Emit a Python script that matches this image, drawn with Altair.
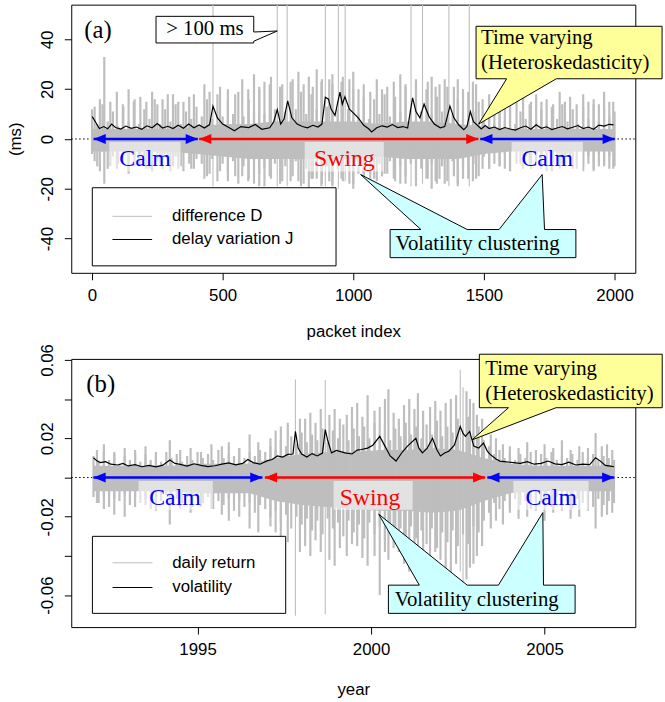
import altair as alt
import pandas as pd

GRAY = "#bebebe"
SANS = "Liberation Sans"
SERIF = "Liberation Serif"
BLUE = "#0000ff"
RED = "#ff0000"
YELLOW = "#ffff99"
CYAN = "#ccffff"

# ======================= Panel (a): packet delay =======================
# dense core of the difference series D (ms)
A_CORE_X = [0, 100, 200, 300, 400, 500, 600, 700, 800, 900, 1000, 1100, 1200, 1300, 1400, 1500,
            1600, 1700, 1800, 1900, 2000]
A_CORE_HI = [4, 4, 4, 4, 5, 6, 6, 7, 7, 7, 7, 6, 7, 7, 6, 5, 4, 4, 4, 4, 4]
A_CORE_LO = [-5, -5, -5, -5, -6, -7, -8, -8, -8, -8, -8, -7, -8, -8, -8, -6, -5, -5, -5, -5, -5]
# excursions of D sampled every 20 packets (high / low)
A_GRID = list(range(0, 2001, 20))
A_HI = [12, 6, 14, 7, 11, 5, 13, 7, 15, 6, 12, 8, 16, 6, 12, 7, 14, 6, 11, 8, 13,
        9, 16, 8, 18, 9, 15, 10, 19, 9, 16, 11, 20, 10, 22, 12, 21, 11, 23, 12, 19,
        10, 18, 12, 24, 13, 22, 12, 25, 12, 20, 10, 17, 8, 16, 10, 18, 9, 17, 11, 21,
        12, 23, 11, 20, 10, 17, 11, 21, 10, 16, 9, 19, 11, 15,
        8, 13, 6, 12, 7, 14, 6, 11, 8, 15, 7, 12, 6, 13, 8, 14, 7, 12, 6, 13, 8, 14, 7, 12, 9, 11]
A_LO = [-6, -11, -5, -12, -7, -10, -5, -13, -6, -11, -7, -12, -5, -10, -6, -13, -7, -11, -5, -12, -8,
        -10, -15, -8, -17, -10, -14, -9, -18, -11, -16, -9, -19, -12, -15, -10, -18, -11, -17, -9, -19,
        -12, -16, -10, -18, -11, -19, -12, -17, -10, -18, -9, -15, -8, -16, -10, -14, -9, -17, -11, -18,
        -10, -19, -12, -16, -10, -18, -11, -17, -9, -19, -11, -16, -10, -15,
        -7, -12, -5, -11, -6, -13, -5, -10, -7, -12, -6, -11, -5, -13, -7, -10, -6, -12, -5, -11, -7, -13, -6, -10, -7, -11]
# individual spikes (120 = beyond 100 ms, clipped at the frame)
A_SPK_X = [10, 30, 47, 70, 95, 118, 140, 163, 185, 208, 230, 250, 270, 290, 310, 330, 350, 372, 390,
           430, 450, 463, 490, 520, 548, 575, 598, 620, 640, 660, 685, 709, 728, 747, 768, 790, 810, 830, 845,
           860, 878, 893, 908, 920, 943, 955, 969, 985, 1000, 1020, 1040, 1065, 1090, 1110, 1130, 1155, 1180, 1200, 1221,
           1240, 1265, 1285, 1300, 1315, 1330, 1350, 1366, 1385, 1400, 1420, 1444, 1458, 1470,
           1495, 1520, 1540, 1560, 1580, 1600, 1625, 1650, 1675, 1700, 1720, 1740, 1765, 1790, 1810, 1830, 1855, 1880,
           1900, 1920, 1940, 1960, 1980, 1995]
A_SPK_HI = [13, 16, 33, 15, 19, 14, 20, 16, 17, 15, 19, 14, 16, 18, 18, 15, 15, 17, 18,
            22, 19, 120, 21, 20, 18, 24, 20, 26, 21, 23, 25, 120, 22, 120, 24, 27, 22, 25, 21,
            28, 23, 120, 24, 26, 120, 23, 120, 24, 27, 20, 22, 19, 24, 20, 21, 23, 26, 22, 120,
            24, 120, 23, 25, 21, 22, 24, 120, 21, 24, 20, 120, 23, 22,
            16, 18, 15, 16, 14, 19, 15, 17, 14, 18, 15, 16, 14, 19, 15, 17, 14, 18, 15, 16, 14, 19, 15, 15]
A_SPK_LO = [-9, -13, -18, -11, -12, -10, -14, -11, -10, -12, -13, -9, -12, -10, -11, -12, -13, -10, -12,
            -16, -14, -19, -13, -17, -15, -15, -17, -18, -14, -19, -16, -19, -17, -19, -15, -17, -18, -20, -16,
            -16, -19, -19, -17, -18, -20, -16, -17, -18, -20, -14, -15, -16, -17, -15, -14, -16, -18, -15, -19,
            -17, -18, -16, -20, -17, -16, -18, -19, -15, -18, -16, -19, -17, -16,
            -12, -12, -10, -11, -12, -13, -10, -12, -11, -10, -12, -13, -10, -12, -11, -11, -12, -13, -10, -12,
            -11, -11, -12, -12]
# delay variation J (ms)
A_J_X = [1, 15, 28, 45, 60, 75, 90, 110, 130, 150, 170, 190, 210, 230, 250, 270, 290, 310, 330, 350,
         370, 390, 410, 430, 450, 463, 480, 500, 527, 545, 570, 600, 625, 650, 680, 695, 709, 722, 735, 749,
         765, 785, 805, 825, 845, 865, 880, 893, 905, 915, 930, 949, 958, 968, 985, 1000, 1019, 1040, 1060, 1070,
         1090, 1110, 1130, 1150, 1170, 1190, 1208, 1227, 1240, 1255, 1271, 1290, 1310, 1333, 1350, 1370, 1385,
         1405, 1423, 1435, 1448, 1460, 1475, 1490, 1505, 1520, 1540, 1560, 1580, 1600, 1620, 1640, 1660, 1680,
         1700, 1720, 1740, 1760, 1780, 1800, 1820, 1840, 1860, 1880, 1900, 1920, 1940, 1960, 1980, 1996]
A_J = [9.0, 6.5, 4.2, 5.0, 4.1, 6.0, 4.6, 4.0, 5.2, 4.3, 4.8, 3.9, 5.3, 4.5, 6.2, 4.4, 5.1, 4.2, 5.5, 4.3,
       6.0, 4.5, 5.6, 4.4, 5.8, 13.2, 8.5, 6.0, 4.4, 3.3, 5.0, 4.6, 5.8, 3.9, 4.5, 6.8, 11.8, 6.0, 8.0, 15.3,
       8.5, 6.0, 5.0, 4.5, 5.5, 4.8, 6.0, 16.8, 16.0, 12.0, 9.5, 18.8, 14.0, 17.0, 12.0, 10.5, 8.5, 5.5, 4.0, 2.8,
       4.5, 5.3, 4.8, 5.8, 4.6, 5.0, 4.4, 16.5, 11.0, 8.5, 14.0, 9.0, 6.0, 4.5, 5.0, 13.2, 8.5,
       5.5, 3.7, 5.0, 11.0, 7.0, 5.5, 4.0, 5.4, 4.2, 4.8, 3.8, 4.6, 4.0, 3.6, 4.5, 5.2, 3.9,
       5.7, 4.3, 4.9, 3.8, 4.4, 5.0, 4.1, 4.7, 5.4, 4.2, 4.8, 3.9, 5.6, 5.2, 5.9, 5.7]

# ======================= Panel (b): daily returns =======================
B_CORE_X = [1992.0, 1992.75, 1993.5, 1994.25, 1995.0, 1995.75, 1996.5, 1997.25, 1998.0, 1998.75, 1999.5,
            2000.25, 2001.0, 2001.75, 2002.5, 2003.25, 2004.0, 2004.75, 2005.5, 2006.25, 2007.0]
B_CORE_HI = [0.006, 0.006, 0.006, 0.006, 0.007, 0.007, 0.007, 0.010, 0.012, 0.013, 0.013,
             0.014, 0.014, 0.015, 0.014, 0.010, 0.007, 0.006, 0.006, 0.006, 0.006]
B_CORE_LO = [-0.007, -0.007, -0.007, -0.007, -0.008, -0.008, -0.008, -0.012, -0.014, -0.015, -0.016,
             -0.017, -0.017, -0.018, -0.017, -0.012, -0.008, -0.007, -0.007, -0.007, -0.007]
B_GRID = [round(1992 + 0.15 * i, 2) for i in range(101)]
B_HI = [0.011, 0.008, 0.013, 0.009, 0.012, 0.007, 0.011, 0.009, 0.014, 0.008,
        0.012, 0.009, 0.011, 0.008, 0.013, 0.010, 0.012, 0.008, 0.011, 0.009,
        0.013, 0.010, 0.012, 0.009, 0.014, 0.010, 0.012, 0.011, 0.015, 0.010,
        0.013, 0.011, 0.014,
        0.013, 0.016, 0.014, 0.019, 0.016, 0.021, 0.017, 0.023, 0.018, 0.022,
        0.019, 0.025, 0.018, 0.024, 0.020, 0.027, 0.019, 0.025, 0.021, 0.026,
        0.020, 0.028, 0.022, 0.027, 0.019, 0.025, 0.021, 0.028, 0.022, 0.026,
        0.020, 0.027, 0.022, 0.029, 0.021, 0.026, 0.023, 0.030, 0.024, 0.031,
        0.022, 0.026, 0.019,
        0.016, 0.012, 0.014, 0.010, 0.013, 0.009, 0.012, 0.010, 0.013, 0.009,
        0.012, 0.010, 0.013, 0.009, 0.011, 0.010, 0.012, 0.009, 0.013, 0.010,
        0.012, 0.009, 0.011, 0.010, 0.009]
B_LO = [-0.010, -0.013, -0.009, -0.015, -0.011, -0.012, -0.009, -0.014, -0.010, -0.013,
        -0.011, -0.016, -0.010, -0.012, -0.009, -0.014, -0.011, -0.013, -0.010, -0.015,
        -0.011, -0.013, -0.010, -0.016, -0.012, -0.014, -0.011, -0.017, -0.012, -0.015,
        -0.013, -0.018, -0.014,
        -0.016, -0.020, -0.017, -0.023, -0.019, -0.026, -0.020, -0.024, -0.021, -0.027,
        -0.022, -0.029, -0.021, -0.026, -0.023, -0.030, -0.022, -0.028, -0.024, -0.031,
        -0.023, -0.029, -0.025, -0.032, -0.024, -0.030, -0.026, -0.033, -0.025, -0.031,
        -0.027, -0.034, -0.026, -0.036, -0.028, -0.033, -0.027, -0.035, -0.029, -0.034,
        -0.025, -0.028, -0.022,
        -0.018, -0.013, -0.016, -0.012, -0.015, -0.011, -0.014, -0.012, -0.016, -0.011,
        -0.013, -0.012, -0.015, -0.010, -0.014, -0.012, -0.016, -0.011, -0.013, -0.012,
        -0.015, -0.011, -0.014, -0.012, -0.013]
B_SPK_X = [1992.1, 1992.3, 1992.6, 1992.9, 1993.2, 1993.5, 1993.8, 1994.2, 1994.5, 1994.8,
           1995.1, 1995.4, 1995.7, 1995.9, 1996.2, 1996.5, 1996.75,
           1997.1, 1997.25, 1997.4, 1997.6, 1997.82, 1997.95, 1998.1, 1998.25, 1998.4, 1998.55,
           1998.68, 1998.8, 1998.95, 1999.1, 1999.3, 1999.45, 1999.6, 1999.75, 1999.9, 2000.1,
           2000.25, 2000.4, 2000.5, 2000.65, 2000.8, 2000.95, 2001.1, 2001.25, 2001.35, 2001.5,
           2001.7, 2001.85, 2002.0, 2002.15, 2002.3, 2002.45, 2002.57, 2002.65, 2002.75, 2002.85,
           2002.95, 2003.05, 2003.2,
           2003.45, 2003.6, 2003.8, 2004.0, 2004.25, 2004.5, 2004.75, 2005.0, 2005.25, 2005.5,
           2005.75, 2006.0, 2006.25, 2006.47, 2006.65, 2006.8, 2006.95]
B_SPK_HI = [0.014, 0.017, 0.013, 0.015, 0.012, 0.016, 0.013, 0.019, 0.014, 0.015,
            0.013, 0.017, 0.016, 0.018, 0.015, 0.022, 0.018,
            0.020, 0.024, 0.026, 0.028, 0.050, 0.030, 0.030, 0.033, 0.028, 0.035,
            0.0497, 0.032, 0.035, 0.030, 0.032, 0.036, 0.038, 0.031, 0.042, 0.034,
            0.036, 0.040, 0.045, 0.033, 0.030, 0.037, 0.040, 0.035, 0.043, 0.034,
            0.036, 0.039, 0.034, 0.038, 0.040, 0.042, 0.055, 0.046, 0.044, 0.040,
            0.038, 0.032, 0.030,
            0.022, 0.020, 0.017, 0.016, 0.015, 0.018, 0.014, 0.017, 0.015, 0.019,
            0.014, 0.016, 0.015, 0.0227, 0.016, 0.017, 0.014]
B_SPK_LO = [-0.013, -0.016, -0.019, -0.020, -0.015, -0.014, -0.017, -0.024, -0.016, -0.018,
            -0.015, -0.016, -0.019, -0.022, -0.020, -0.026, -0.028,
            -0.025, -0.028, -0.030, -0.033, -0.0705, -0.038, -0.035, -0.040, -0.032, -0.038,
            -0.0697, -0.042, -0.045, -0.036, -0.040, -0.034, -0.035, -0.041, -0.045, -0.040,
            -0.060, -0.038, -0.042, -0.036, -0.038, -0.044, -0.048, -0.038, -0.040, -0.046,
            -0.045, -0.038, -0.042, -0.047, -0.050, -0.044, -0.048, -0.055, -0.052, -0.046,
            -0.044, -0.040, -0.035,
            -0.026, -0.022, -0.024, -0.018, -0.021, -0.020, -0.017, -0.022, -0.018, -0.017,
            -0.021, -0.020, -0.017, -0.026, -0.020, -0.019, -0.018]
B_V_X = [1992.0, 1992.1, 1992.2, 1992.35, 1992.5, 1992.7, 1992.85, 1993.0, 1993.2, 1993.4,
         1993.6, 1993.8, 1994.0, 1994.2, 1994.35, 1994.5, 1994.7, 1994.9, 1995.1, 1995.3,
         1995.5, 1995.7, 1995.9, 1996.1, 1996.3, 1996.45, 1996.6, 1996.8, 1997.0, 1997.15,
         1997.3, 1997.45, 1997.6, 1997.75, 1997.82, 1997.9, 1998.0, 1998.15, 1998.3, 1998.45,
         1998.6, 1998.68, 1998.75, 1998.86, 1999.0, 1999.25, 1999.45, 1999.6, 1999.72, 1999.9,
         2000.05, 2000.25, 2000.4, 2000.55, 2000.72, 2000.9, 2001.05, 2001.29, 2001.38, 2001.48,
         2001.62, 2001.77, 2001.9, 2002.0, 2002.12, 2002.24, 2002.4, 2002.57, 2002.65, 2002.72,
         2002.84, 2002.96, 2003.1, 2003.24, 2003.35, 2003.43, 2003.6, 2003.71, 2003.9, 2004.1,
         2004.3, 2004.5, 2004.7, 2004.9, 2005.1, 2005.3, 2005.5, 2005.7, 2005.9, 2006.1,
         2006.3, 2006.47, 2006.6, 2006.75, 2006.9, 2007.0]
B_V = [0.0101, 0.0085, 0.0076, 0.0081, 0.0068, 0.0064, 0.0072, 0.0059, 0.0066, 0.0055,
       0.0062, 0.0054, 0.0063, 0.0089, 0.0072, 0.0067, 0.0058, 0.0070, 0.0062, 0.0056,
       0.0060, 0.0068, 0.0075, 0.0065, 0.0072, 0.0092, 0.0076, 0.0068, 0.0085, 0.0092,
       0.0110, 0.0104, 0.0118, 0.0120, 0.0235, 0.0150, 0.0120, 0.0105, 0.0122, 0.0110,
       0.0125, 0.0244, 0.0190, 0.0126, 0.0138, 0.0126, 0.0120, 0.0140, 0.0143, 0.0150,
       0.0165, 0.0210, 0.0160, 0.0110, 0.0084, 0.0130, 0.0160, 0.0200, 0.0150, 0.0126,
       0.0150, 0.0200, 0.0140, 0.0110, 0.0125, 0.0134, 0.0165, 0.0260, 0.0225, 0.0210,
       0.0235, 0.0160, 0.0150, 0.0176, 0.0135, 0.0118, 0.0095, 0.0084, 0.0080, 0.0076,
       0.0072, 0.0081, 0.0068, 0.0072, 0.0084, 0.0070, 0.0066, 0.0078, 0.0064, 0.0068,
       0.0066, 0.0101, 0.0085, 0.0062, 0.0058, 0.0055]

# ======================= annotations (data units) =======================
SEG_COL = [BLUE, RED, BLUE]
SEG_TXT = ["Calm", "Swing", "Calm"]
LEG_COL = [GRAY, "black"]

PANEL_A = dict(
    xdom=[-79.5, 2079.5], ydom=[-53.8, 54.0],
    xticks=[0, 500, 1000, 1500, 2000], yticks=[-40, -20, 0, 20, 40],
    xtitle="packet index", ytitle="(ms)", yfmt="d", ylab_skip=[], xtp=19, big=54,
    cx=A_CORE_X, chi=A_CORE_HI, clo=A_CORE_LO,
    grid=A_GRID, hi=A_HI, lo=A_LO, spx=A_SPK_X, sphi=A_SPK_HI, splo=A_SPK_LO,
    lx=A_J_X, ly=A_J,
    arr_x1=[6, 410, 1486], arr_x2=[405, 1479, 2001],
    lab_x=[203, 966, 1742], lab_y=-7.9,
    bg_x1=[66, 814, 1606], bg_x2=[339, 1117, 1879], bg_y=[-1.2, -13.1],
    tv_x=[1470, 1470, 2182, 2182, 1777, 1480, 1587, 1470],
    tv_y=[24.2, 45.3, 45.3, 24.2, 24.2, 6.0, 24.2, 24.2],
    tv_tx=1489, tv_ty=[40.5, 30.6],
    vc_x=[1141, 1141, 1259, 1028, 1436, 1558, 1723, 1732, 1852, 1852, 1141],
    vc_y=[-47.7, -36.4, -36.4, -14.3, -36.4, -36.4, -14.3, -36.4, -36.4, -47.7, -47.7],
    vc_tx=1162, vc_ty=-42.4,
    hm_x=[245, 245, 619, 619, 709, 619, 619, 245], hm_y=[38.6, 49.3, 49.3, 43.0, 43.4, 39.3, 38.6, 38.6],
    hm_tx=432, hm_ty=44.0,
    leg_box=[1.1, 934, -19.6, -51.0], leg_lx=[78, 230], leg_ly=[-31.1, -40.4], leg_tx=306,
    leg_txt=["difference D", "delay variation J"],
    tag="(a)", tag_x=23, tag_y=43.7,
)

PANEL_B = dict(
    xdom=[1991.36, 2007.615], ydom=[-0.0763, 0.0605],
    xticks=[1995, 2000, 2005], yticks=[-0.06, -0.04, -0.02, 0, 0.02, 0.04, 0.06],
    xtitle="year", ytitle="", yfmt=".2f", ylab_skip=[0, 0.04], xtp=23, big=0.045,
    cx=B_CORE_X, chi=B_CORE_HI, clo=B_CORE_LO,
    grid=B_GRID, hi=B_HI, lo=B_LO, spx=B_SPK_X, sphi=B_SPK_HI, splo=B_SPK_LO,
    lx=B_V_X, ly=B_V,
    arr_x1=[1992.0, 1996.94, 2003.35], arr_x2=[1996.87, 2003.29, 2007.01],
    lab_x=[1994.35, 1999.97, 2005.19], lab_y=-0.0103,
    bg_x1=[1993.30, 1998.92, 2004.10], bg_x2=[1995.44, 2001.20, 2006.27], bg_y=[-0.0018, -0.0165],
    tv_x=[2003.12, 2003.12, 2008.39, 2008.39, 2005.33, 2002.91, 2003.96, 2003.12],
    tv_y=[0.0356, 0.0629, 0.0629, 0.0356, 0.0356, 0.0192, 0.0356, 0.0356],
    tv_tx=2003.29, tv_ty=[0.0554, 0.0428],
    vc_x=[2000.50, 2000.50, 2001.39, 2000.22, 2002.77, 2003.67, 2004.95, 2004.97, 2005.88, 2005.88, 2000.50],
    vc_y=[-0.0693, -0.0549, -0.0549, -0.0187, -0.0549, -0.0549, -0.0179, -0.0549, -0.0549, -0.0693, -0.0693],
    vc_tx=2000.68, vc_ty=-0.0625,
    hm_x=None,
    leg_box=[1991.97, 1997.54, -0.0300, -0.0693], leg_lx=[1992.55, 1993.70], leg_ly=[-0.0435, -0.0561],
    leg_tx=1994.27, leg_txt=["daily return", "volatility"],
    tag="(b)", tag_x=1992.21, tag_y=0.0477,
)

HEAD_R = "M0,0L-4.1,-1.65L-4.1,1.65Z"
HEAD_L = "M0,0L4.1,-1.65L4.1,1.65Z"


def build(p):
    sx = alt.Scale(domain=p["xdom"], nice=False, zero=False)
    sy = alt.Scale(domain=p["ydom"], nice=False, zero=False)
    xaxis = alt.Axis(values=p["xticks"], format="d", title=p["xtitle"], titlePadding=p["xtp"],
                     minExtent=32, maxExtent=32)
    skip = " || ".join(["abs(abs(datum.value) - %s) < 1e-9" % v for v in p["ylab_skip"]]) or "false"
    yexpr = "(%s) ? '' : (datum.value < 0 ? '-' : '') + format(abs(datum.value), '%s')" % (skip, p["yfmt"])
    yaxis = alt.Axis(values=p["yticks"], labelExpr=yexpr, title=p["ytitle"], labelAngle=-90,
                     labelAlign="center", labelBaseline="bottom", titleAngle=270,
                     titleBaseline="bottom", titleAlign="center", titlePadding=17,
                     minExtent=30, maxExtent=30)

    def X(f):
        return alt.X(f, type="quantitative", scale=sx, axis=xaxis)

    def Y(f):
        return alt.Y(f, type="quantitative", scale=sy, axis=yaxis)

    layers = []
    zero = pd.DataFrame({"x": [p["xdom"][0]], "x2": [p["xdom"][1]], "y": [0]})
    layers.append(alt.Chart(zero).mark_rule(color="black", strokeWidth=1, strokeDash=[1.5, 2.5])
                  .encode(x=X("x"), x2=alt.X2("x2"), y=Y("y")))
    core = pd.DataFrame({"x": p["cx"], "hi": p["chi"], "lo": p["clo"]})
    layers.append(alt.Chart(core).mark_area(color=GRAY, opacity=1)
                  .encode(x=X("x"), y=Y("hi"), y2=alt.Y2("lo")))
    spk = pd.DataFrame({"x": list(p["grid"]) + list(p["spx"]),
                        "hi": list(p["hi"]) + list(p["sphi"]),
                        "lo": list(p["lo"]) + list(p["splo"])})
    layers.append(alt.Chart(spk).mark_rule(color=GRAY, clip=True)
                  .encode(x=X("x"), y=Y("hi"), y2=alt.Y2("lo"),
                          strokeWidth=alt.condition("datum.hi > %s" % p["big"], alt.value(1.1), alt.value(2.2))))
    ln = pd.DataFrame({"x": p["lx"], "y": p["ly"]})
    layers.append(alt.Chart(ln).mark_line(color="black", strokeWidth=1.2).encode(x=X("x"), y=Y("y")))

    bg = pd.DataFrame({"x": p["bg_x1"], "x2": p["bg_x2"], "y": [p["bg_y"][0]] * 3, "y2": [p["bg_y"][1]] * 3})
    layers.append(alt.Chart(bg).mark_rect(fill="white", opacity=0.55)
                  .encode(x=X("x"), x2=alt.X2("x2"), y=Y("y"), y2=alt.Y2("y2")))

    arr = pd.DataFrame({"x": p["arr_x1"], "x2": p["arr_x2"], "y": [0, 0, 0], "c": SEG_COL})
    layers.append(alt.Chart(arr).mark_rule(strokeWidth=2.5)
                  .encode(x=X("x"), x2=alt.X2("x2"), y=Y("y"), color=alt.Color("c:N", scale=None)))
    heads = pd.DataFrame({"x": p["arr_x1"] + p["arr_x2"], "y": [0] * 6, "c": SEG_COL + SEG_COL,
                          "s": [HEAD_L] * 3 + [HEAD_R] * 3})
    layers.append(alt.Chart(heads).mark_point(filled=True, size=36, opacity=1, strokeWidth=0)
                  .encode(x=X("x"), y=Y("y"), color=alt.Color("c:N", scale=None),
                          shape=alt.Shape("s:N", scale=None)))
    labs = pd.DataFrame({"x": p["lab_x"], "y": [p["lab_y"]] * 3, "t": SEG_TXT, "c": SEG_COL})
    layers.append(alt.Chart(labs).mark_text(font=SERIF, fontSize=24, baseline="middle", align="center")
                  .encode(x=X("x"), y=Y("y"), text="t:N", color=alt.Color("c:N", scale=None)))

    def poly(xs, ys, fill):
        d = pd.DataFrame({"x": xs, "y": ys, "i": list(range(len(xs)))})
        return (alt.Chart(d).mark_line(fill=fill, stroke="black", strokeWidth=1, strokeJoin="miter")
                .encode(x=X("x"), y=Y("y"), order=alt.Order("i:Q")))

    def txt(xs, ys, ts, size=21, align="left"):
        d = pd.DataFrame({"x": xs, "y": ys, "t": ts})
        return (alt.Chart(d).mark_text(font=SERIF, fontSize=size, align=align, baseline="middle", color="black")
                .encode(x=X("x"), y=Y("y"), text="t:N"))

    layers.append(poly(p["vc_x"], p["vc_y"], CYAN))
    layers.append(txt([p["vc_tx"]], [p["vc_ty"]], ["Volatility clustering"]))
    layers.append(poly(p["tv_x"], p["tv_y"], YELLOW))
    layers.append(txt([p["tv_tx"]] * 2, p["tv_ty"], ["Time varying", "(Heteroskedasticity)"]))
    if p["hm_x"] is not None:
        layers.append(poly(p["hm_x"], p["hm_y"], "white"))
        layers.append(txt([p["hm_tx"]], [p["hm_ty"]], ["> 100 ms"], align="center"))

    lb = p["leg_box"]
    box = pd.DataFrame({"x": [lb[0]], "x2": [lb[1]], "y": [lb[2]], "y2": [lb[3]]})
    layers.append(alt.Chart(box).mark_rect(fill="white", stroke="black", strokeWidth=1)
                  .encode(x=X("x"), x2=alt.X2("x2"), y=Y("y"), y2=alt.Y2("y2")))
    legl = pd.DataFrame({"x": [p["leg_lx"][0]] * 2, "x2": [p["leg_lx"][1]] * 2, "y": p["leg_ly"], "c": LEG_COL})
    layers.append(alt.Chart(legl).mark_rule(strokeWidth=1)
                  .encode(x=X("x"), x2=alt.X2("x2"), y=Y("y"), color=alt.Color("c:N", scale=None)))
    legt = pd.DataFrame({"x": [p["leg_tx"]] * 2, "y": p["leg_ly"], "t": p["leg_txt"]})
    layers.append(alt.Chart(legt).mark_text(font=SANS, fontSize=17, align="left", baseline="middle", color="black")
                  .encode(x=X("x"), y=Y("y"), text="t:N"))

    layers.append(txt([p["tag_x"]], [p["tag_y"]], [p["tag"]], size=25, align="center"))
    return alt.layer(*layers).properties(width=570, height=271)


chart = (
    alt.vconcat(build(PANEL_A), build(PANEL_B), spacing=87, bounds="flush")
    .properties(padding={"left": 6, "top": 0, "right": 0, "bottom": 0}, background="white")
    .configure_view(stroke="black", strokeWidth=1)
    .configure_axis(labelFont=SANS, labelFontSize=17, labelColor="black", titleFont=SANS,
                    titleFontSize=17, titleFontWeight="normal", titleColor="black",
                    tickColor="black", tickSize=7, tickWidth=1, domain=False, grid=False,
                    labelPadding=8, labelFlush=False, labelOverlap=False)
)
chart.save("out.html", embed_options={"renderer": "svg", "actions": False})
